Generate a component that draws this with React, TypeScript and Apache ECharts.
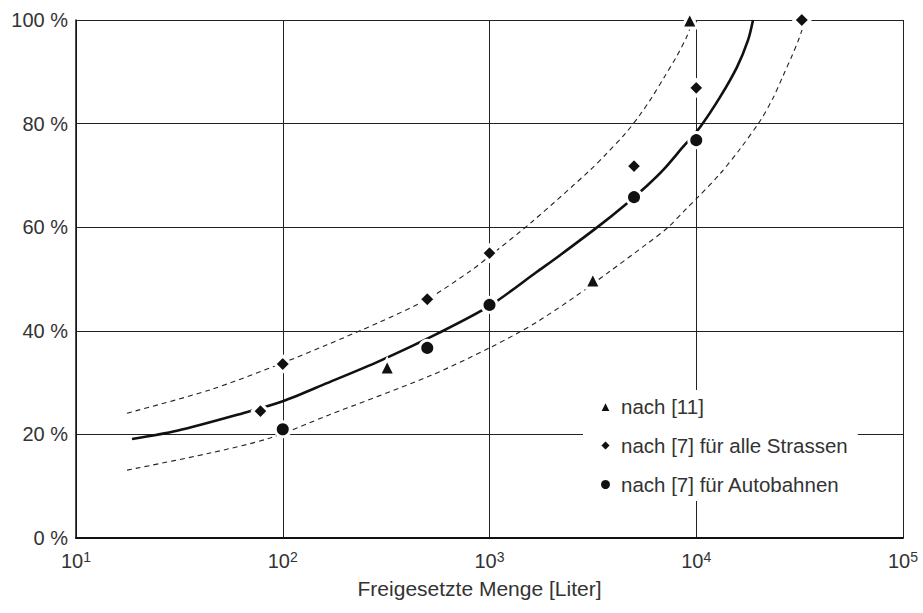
import React, { useEffect, useRef } from "react";
import * as echarts from "echarts";

// Tick labels
const yTickLabels = ["0 %", "20 %", "40 %", "60 %", "80 %", "100 %"];
const xTickExponents = [1, 2, 3, 4, 5];

// Series names
const seriesNames = [
  "nach [11]",
  "nach [7] für alle Strassen",
  "nach [7] für Autobahnen",
];

// Fitted curves: [Liter, %]
const solidCurve: [number, number][] = [
  [18.66, 19.1], [30.8, 20.7], [64.2, 24.1], [100, 26.4], [163.7, 29.9],
  [295, 34.2], [557, 39.4], [1000, 44.8], [1697, 51.4], [2193, 54.6],
  [3423, 60.4], [4523, 64.3], [5778, 68.0], [6906, 71.0], [8628, 75.5],
  [10425, 79.3], [13030, 85.1], [15740, 90.9], [17800, 96.1], [18820, 100],
];
const upperDashed: [number, number][] = [
  [17.65, 24.1], [44.5, 28.6], [100, 33.8], [163.7, 37.3], [295, 41.7],
  [500, 46.1], [805, 51.5], [1000, 54.4], [1623, 61.2], [3063, 71.0],
  [3701, 74.3], [4523, 78.0], [5345, 81.7], [6109, 85.1], [7060, 89.2],
  [8070, 93.1], [9022, 96.9], [9537, 99.6],
];
const lowerDashed: [number, number][] = [
  [17.65, 13.1], [44.5, 16.4], [86.8, 19.3], [163.7, 23.6], [515, 31.3],
  [1000, 36.7], [1404, 39.8], [1697, 41.7], [2534, 46.3], [3826, 51.5],
  [5778, 56.8], [7220, 59.8], [9022, 63.7], [10085, 65.6], [13030, 70.3],
  [16280, 75.1], [20340, 80.5], [23500, 84.9], [26280, 89.2], [29050, 93.1],
  [31060, 95.9], [32480, 98.1],
];

// Measured points: [Liter, %]
const triangles: [number, number][] = [[320, 33], [3160, 49.8], [9300, 100]];
const diamonds: [number, number][] = [
  [78, 24.5], [100, 33.6], [500, 46.1], [1000, 55], [5000, 71.8], [10000, 86.9], [32400, 100],
];
const circles: [number, number][] = [
  [100, 21], [500, 36.7], [1000, 45], [5000, 65.8], [10000, 76.8],
];

const FONT = "'Liberation Sans', Arial, Helvetica, sans-serif";
const TEXT = "#333";
const INK = "#111";

export default function App() {
  const ref = useRef<HTMLDivElement>(null);
  useEffect(() => {
    document.body.style.margin = "0";
    const chart = echarts.init(ref.current!, undefined, { renderer: "svg" });
    const markerStyle = { color: INK, borderColor: "#fff", borderWidth: 3, opacity: 1 };
    chart.setOption({
      animation: false,
      backgroundColor: "#fff",
      textStyle: { fontFamily: FONT },
      grid: { left: 76, right: 20, top: 20, bottom: 75, containLabel: false },
      xAxis: {
        type: "log",
        logBase: 10,
        min: 10,
        max: 100000,
        name: "Freigesetzte Menge [Liter]",
        nameLocation: "middle",
        nameGap: 40,
        nameTextStyle: { fontSize: 21, color: TEXT, fontFamily: FONT, padding: [0, 20, 0, 0] },
        axisLine: { show: true, lineStyle: { color: INK, width: 2 } },
        axisTick: { show: false },
        minorTick: { show: false },
        splitLine: { show: true, lineStyle: { color: "#222", width: 1 } },
        axisLabel: {
          margin: 12,
          formatter: (v: number) => {
            const e = Math.round(Math.log10(v));
            return xTickExponents.includes(e) ? "{b|10}{s|" + e + "}" : "";
          },
          rich: {
            b: { fontSize: 20, color: TEXT, fontFamily: FONT, lineHeight: 22 },
            s: { fontSize: 14, color: TEXT, fontFamily: FONT, lineHeight: 6, verticalAlign: "top" },
          },
        },
      },
      yAxis: {
        type: "value",
        min: 0,
        max: 100,
        interval: 20,
        axisLine: { show: true, lineStyle: { color: INK, width: 1.5 } },
        axisTick: { show: false },
        splitLine: { show: true, lineStyle: { color: "#222", width: 1 } },
        axisLabel: {
          margin: 8,
          fontSize: 20,
          color: TEXT,
          fontFamily: FONT,
          formatter: (v: number) => yTickLabels[Math.round(v / 20)] ?? "",
        },
      },
      legend: {
        orient: "vertical",
        left: 583,
        top: 390,
        backgroundColor: "#fff",
        padding: [6, 10, 6, 16],
        itemGap: 18,
        itemWidth: 11,
        itemHeight: 11,
        data: seriesNames,
        textStyle: { fontSize: 20.5, color: TEXT, fontFamily: FONT, lineHeight: 20, padding: [0, 0, 0, 5] },
      },
      series: [
        {
          type: "line", data: upperDashed, smooth: 0.3, symbol: "none", clip: false, z: 2,
          lineStyle: { color: "#222", width: 1.1, type: [5, 4] }, silent: true,
        },
        {
          type: "line", data: lowerDashed, smooth: 0.3, symbol: "none", clip: false, z: 2,
          lineStyle: { color: "#222", width: 1.1, type: [5, 4] }, silent: true,
        },
        {
          type: "line", data: solidCurve, smooth: 0.3, symbol: "none", clip: false, z: 3,
          lineStyle: { color: INK, width: 2.6 }, silent: true,
        },
        {
          name: seriesNames[0], type: "scatter", data: triangles, symbol: "triangle",
          symbolSize: 16, clip: false, z: 5, itemStyle: markerStyle,
        },
        {
          name: seriesNames[1], type: "scatter", data: diamonds, symbol: "diamond",
          symbolSize: 16, clip: false, z: 5, itemStyle: markerStyle,
        },
        {
          name: seriesNames[2], type: "scatter", data: circles, symbol: "circle",
          symbolSize: 15, clip: false, z: 5, itemStyle: markerStyle,
        },
      ],
    });
    return () => chart.dispose();
  }, []);
  return (
    <div
      ref={ref}
      style={{ position: "absolute", left: 0, top: 0, width: 923, height: 613 }}
    />
  );
}
